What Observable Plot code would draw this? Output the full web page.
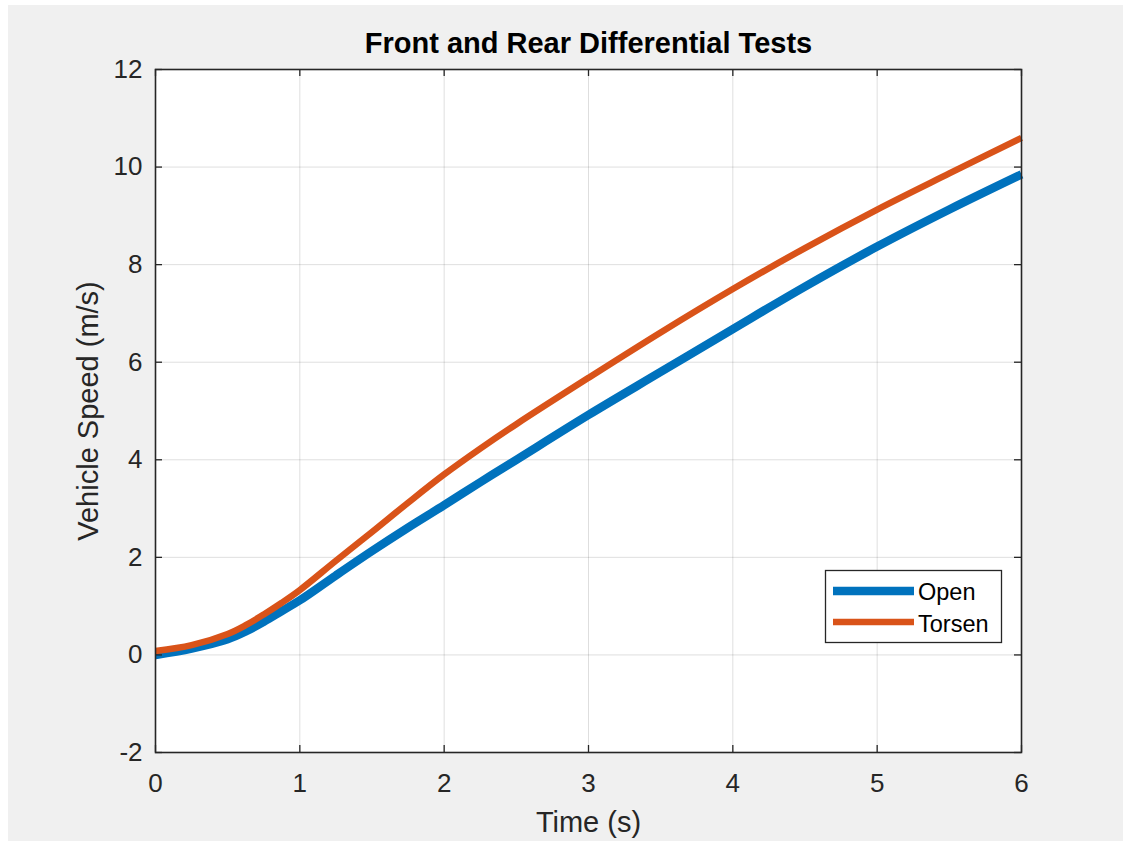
<!DOCTYPE html>
<html><head><meta charset="utf-8">
<script src="https://cdn.jsdelivr.net/npm/d3@7"></script>
<script src="https://cdn.jsdelivr.net/npm/@observablehq/plot@0.6"></script>
<style>
html,body{margin:0;padding:0;background:#fff;}
#fig{position:absolute;left:8px;top:5px;width:1115px;height:836px;background:#f0f0f0;overflow:hidden;}
#legend{position:absolute;left:817px;top:565px;}
</style></head><body><div id="fig"></div>
<script>
const time        = [0, 0.25, 0.5, 0.625, 0.75, 0.875, 1, 1.25, 1.5, 1.75, 2, 2.25, 2.5, 3, 3.5, 4, 4.5, 5, 5.5, 6];
const openSpeed   = [0.0, 0.13, 0.32, 0.48, 0.68, 0.9, 1.12, 1.63, 2.13, 2.61, 3.07, 3.54, 4.0, 4.92, 5.8, 6.68, 7.55, 8.37, 9.13, 9.85];
const torsenSpeed = [0.08, 0.2, 0.43, 0.61, 0.83, 1.07, 1.33, 1.93, 2.52, 3.12, 3.7, 4.23, 4.73, 5.68, 6.61, 7.5, 8.34, 9.13, 9.87, 10.6];
const seriesNames  = ["Open", "Torsen"];
const seriesColors = ["#0072BD", "#D95319"];
const seriesWidths = [8.5, 6.5];
const xTicks = [0, 1, 2, 3, 4, 5, 6];
const yTicks = [-2, 0, 2, 4, 6, 8, 10, 12];
const titleText = "Front and Rear Differential Tests";
const xLabel = "Time (s)";
const yLabel = "Vehicle Speed (m/s)";

const W = 1115, H = 836, mL = 147, mT = 64, mR = 102, mB = 89;
const iw = W - mL - mR, ih = H - mT - mB;
const font = "'Liberation Sans', Arial, Helvetica, sans-serif";
const axisColor = "#262626";

const seriesValues = [openSpeed, torsenSpeed];
const rows = seriesNames.flatMap((s, k) => time.map((t, i) => ({t, v: seriesValues[k][i], s})));

const chart = Plot.plot({
  width: W, height: H,
  marginLeft: mL, marginTop: mT, marginRight: mR, marginBottom: mB,
  style: {background: "transparent", fontFamily: font, overflow: "visible"},
  x: {domain: [0, 6]},
  y: {domain: [-2, 12]},
  marks: [
    Plot.frame({fill: "white", stroke: null}),
    Plot.gridX(xTicks, {stroke: "#000", strokeOpacity: 0.13, strokeWidth: 1}),
    Plot.gridY(yTicks, {stroke: "#000", strokeOpacity: 0.13, strokeWidth: 1}),
    ...seriesNames.map((s, k) => Plot.line(rows.filter(d => d.s === s), {
      x: "t", y: "v", stroke: seriesColors[k], strokeWidth: seriesWidths[k],
      curve: "catmull-rom", strokeLinecap: "butt", strokeLinejoin: "round"
    })),
    Plot.tickX(xTicks, {x: d => d, insetTop: ih - 7, stroke: axisColor, strokeWidth: 1.3}),
    Plot.tickX(xTicks, {x: d => d, insetBottom: ih - 7, stroke: axisColor, strokeWidth: 1.3}),
    Plot.tickY(yTicks, {y: d => d, insetRight: iw - 7, stroke: axisColor, strokeWidth: 1.3}),
    Plot.tickY(yTicks, {y: d => d, insetLeft: iw - 7, stroke: axisColor, strokeWidth: 1.3}),
    Plot.frame({stroke: axisColor, strokeWidth: 1.6}),
    Plot.axisX(xTicks, {tickSize: 0, tickPadding: 21, fontSize: 26, label: null, tickFormat: d => String(d), color: axisColor}),
    Plot.axisY(yTicks, {tickSize: 0, tickPadding: 13, fontSize: 26, label: null, tickFormat: d => String(d), color: axisColor}),
    Plot.text([xLabel], {text: d => d, frameAnchor: "bottom", dy: 79, lineAnchor: "bottom", textAnchor: "middle", fontSize: 29, fill: axisColor}),
    Plot.text([yLabel], {text: d => d, frameAnchor: "left", dx: -78, rotate: -90, lineAnchor: "top", textAnchor: "middle", fontSize: 29, fill: axisColor}),
    Plot.text([titleText], {text: d => d, frameAnchor: "top", dy: -17, lineAnchor: "bottom", textAnchor: "middle", fontSize: 29, fontWeight: "bold", fill: "#000"})
  ]
});
document.getElementById("fig").appendChild(chart);

// legend
const lg = d3.select("#fig").append("svg").attr("id", "legend")
  .attr("width", 178).attr("height", 74).style("overflow", "visible");
lg.append("rect").attr("x", 0.5).attr("y", 0.5).attr("width", 176).attr("height", 72)
  .attr("fill", "white").attr("stroke", axisColor).attr("stroke-width", 1.3);
const rowY = [21, 52];
const baseY = [30, 62];
seriesNames.forEach((s, k) => {
  lg.append("line").attr("x1", 8).attr("x2", 89).attr("y1", rowY[k]).attr("y2", rowY[k])
    .attr("stroke", seriesColors[k]).attr("stroke-width", seriesWidths[k]);
  lg.append("text").attr("x", 93).attr("y", baseY[k]).text(s)
    .attr("font-family", font).attr("font-size", 23.5).attr("fill", "#000");
});
</script>
</body></html>
